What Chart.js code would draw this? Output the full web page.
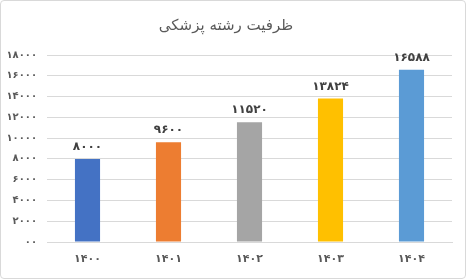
<!DOCTYPE html>
<html>
<head>
<meta charset="utf-8">
<script src="https://cdn.jsdelivr.net/npm/chart.js@4/dist/chart.umd.min.js"></script>
<style>
html,body{margin:0;padding:0;background:#fff;}
#wrap{position:relative;width:466px;height:279px;box-sizing:border-box;border:1px solid #d9d9d9;border-radius:4px;overflow:hidden;}
#wrap canvas{position:absolute;left:-1px;top:-1px;}
</style>
</head>
<body>
<div id="wrap"><canvas id="c" width="466" height="279"></canvas></div>
<script>
const title = "ظرفیت رشته پزشکی";
const categories = ["۱۴۰۰", "۱۴۰۱", "۱۴۰۲", "۱۴۰۳", "۱۴۰۴"];
const values = [8000, 9600, 11520, 13824, 16588];
const valueLabels = ["۸۰۰۰", "۹۶۰۰", "۱۱۵۲۰", "۱۳۸۲۴", "۱۶۵۸۸"];
const barColors = ["#4472C4", "#ED7D31", "#A5A5A5", "#FFC000", "#5B9BD5"];
const yTickValues = [0, 2000, 4000, 6000, 8000, 10000, 12000, 14000, 16000, 18000];
const yTickLabels = ["۰۰", "۲۰۰۰", "۴۰۰۰", "۶۰۰۰", "۸۰۰۰", "۱۰۰۰۰", "۱۲۰۰۰", "۱۴۰۰۰", "۱۶۰۰۰", "۱۸۰۰۰"];

const labelPlugin = {
  id: 'valueLabels',
  afterDatasetsDraw(chart) {
    const ctx = chart.ctx;
    const meta = chart.getDatasetMeta(0);
    ctx.save();
    ctx.font = 'bold 12px "DejaVu Sans"';
    ctx.fillStyle = '#404040';
    ctx.textAlign = 'center';
    ctx.textBaseline = 'bottom';
    meta.data.forEach((bar, i) => {
      ctx.fillText(valueLabels[i], bar.x, bar.y - 6);
    });
    ctx.restore();
  }
};

new Chart(document.getElementById('c'), {
  type: 'bar',
  data: {
    labels: categories,
    datasets: [{
      data: values,
      backgroundColor: barColors,
      borderWidth: 0,
      categoryPercentage: 1,
      barPercentage: 0.31
    }]
  },
  options: {
    responsive: false,
    animation: false,
    devicePixelRatio: 1,
    layout: { padding: { left: 0, right: 14, top: 0, bottom: 0 } },
    plugins: {
      legend: { display: false },
      tooltip: { enabled: false },
      title: {
        display: true,
        text: title,
        color: '#595959',
        font: { family: '"DejaVu Sans"', size: 15, weight: 'normal' },
        padding: { top: 17, bottom: 20 }
      }
    },
    scales: {
      x: {
        grid: { display: false, drawTicks: false },
        border: { color: '#d9d9d9' },
        ticks: { color: '#595959', font: { family: '"DejaVu Sans"', size: 11, weight: 'bold' }, padding: 11 },
        afterFit(s) { s.height = 37; }
      },
      y: {
        min: 0, max: 18000,
        afterBuildTicks(s) { s.ticks = yTickValues.map(v => ({ value: v })); },
        grid: { color: '#d9d9d9', drawTicks: false },
        border: { display: false },
        ticks: {
          color: '#595959',
          font: { family: '"DejaVu Sans"', size: 10, weight: 'bold' },
          padding: 10,
          callback(v) { const i = yTickValues.indexOf(v); return i >= 0 ? yTickLabels[i] : ''; }
        },
        afterFit(s) { s.width = 47; }
      }
    }
  },
  plugins: [labelPlugin]
});
</script>
</body>
</html>
